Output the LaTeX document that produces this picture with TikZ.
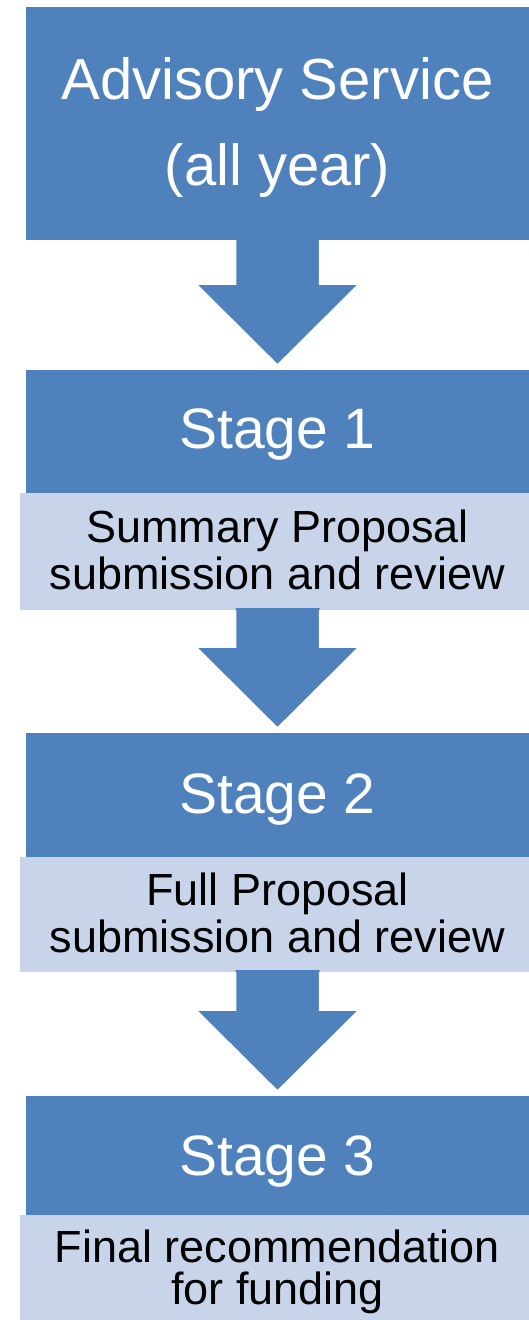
\documentclass[tikz,border=0pt]{standalone}
\usepackage{fontspec}
\setmainfont{Liberation Sans}
\usetikzlibrary{calc}
\definecolor{flowblue}{HTML}{4F81BD}
\definecolor{subfill}{HTML}{C8D4E9}
\tikzset{
  bluebox/.style={fill=flowblue, inner sep=0pt, outer sep=0pt, minimum width=503pt, anchor=north west},
  subbox/.style={fill=subfill, inner sep=0pt, outer sep=0pt, minimum width=509pt, anchor=north west},
  whitetxt/.style={text=white, align=center, inner sep=0pt, anchor=base},
  blacktxt/.style={text=black, align=center, inner sep=0pt, anchor=base},
  arrowedge/.style={draw=white, line width=1.5pt, line join=miter}
}
% #1 = source node, #2 = target node
\newcommand\flowarr[2]{%
  \coordinate (tipc) at ($(#2.north)+(0,-5)$);
  \coordinate (basec) at (#1.south -| #2.north);
  \fill[flowblue] ($(basec)+(-42,-2)$) -- ($(tipc)+(-42,-81)$) -- ($(tipc)+(-81.5,-81)$) -- (tipc)
     -- ($(tipc)+(81.5,-81)$) -- ($(tipc)+(42,-81)$) -- ($(basec)+(42,-2)$) -- cycle;
  \draw[arrowedge] ($(basec)+(-42,0)$) -- ($(tipc)+(-42,-81)$) -- ($(tipc)+(-81.5,-81)$) -- (tipc)
     -- ($(tipc)+(81.5,-81)$) -- ($(tipc)+(42,-81)$) -- ($(basec)+(42,0)$);
}
\begin{document}
\begin{tikzpicture}[x=1pt,y=-1pt]
\useasboundingbox (0,0) rectangle (529,1320);
\clip (0,0) rectangle (529,1320);
% boxes
\node[bluebox, minimum height=233pt] (adv) at (26,7) {};
\node[bluebox, minimum height=123pt] (s1) at (26,370) {};
\node[subbox, minimum height=117pt] (d1) at (20,493) {};
\node[bluebox, minimum height=124pt] (s2) at (26,733) {};
\node[subbox, minimum height=115pt] (d2) at (20,857) {};
\node[bluebox, minimum height=119pt] (s3) at (26,1096) {};
\node[subbox, minimum height=115pt] (d3) at (20,1215) {};
% arrows
\flowarr{adv}{s1}
\flowarr{d1}{s2}
\flowarr{d2}{s3}
% texts (multi-line nodes: base = baseline of last line)
\node[whitetxt, font=\fontsize{58pt}{86pt}\selectfont] (advt) at (277.5,185) {Advisory Service\\(all year)};
\node[whitetxt, font=\fontsize{57pt}{68pt}\selectfont] (s1t) at (277.5,448) {Stage 1};
\node[blacktxt, font=\fontsize{45pt}{47pt}\selectfont] (d1t) at (277.5,589) {Summary Proposal\\submission and review};
\node[whitetxt, font=\fontsize{57pt}{68pt}\selectfont] (s2t) at (277.5,813) {Stage 2};
\node[blacktxt, font=\fontsize{45pt}{47pt}\selectfont] (d2t) at (277.5,952) {Full Proposal\\submission and review};
\node[whitetxt, font=\fontsize{57pt}{68pt}\selectfont] (s3t) at (277.5,1175.5) {Stage 3};
\node[blacktxt, font=\fontsize{45pt}{42pt}\selectfont] (d3t) at (277.5,1304) {Final recommendation\\for funding};
\end{tikzpicture}
\end{document}
